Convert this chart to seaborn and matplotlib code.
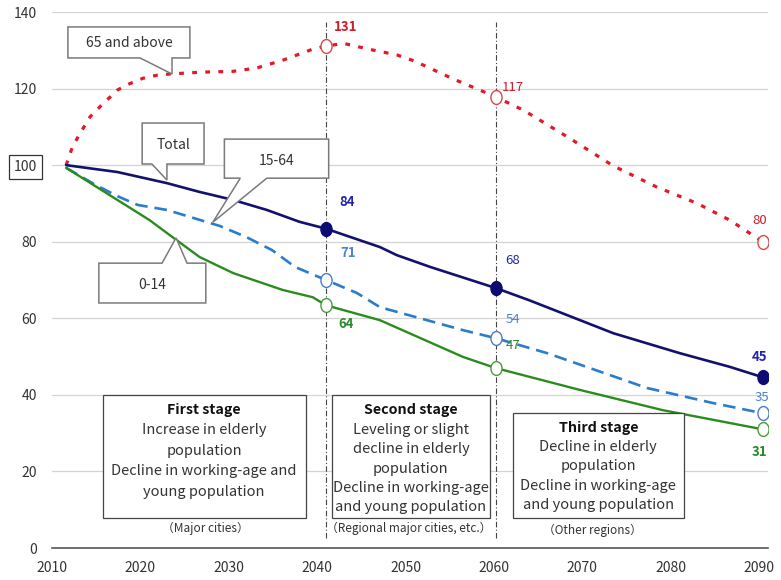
import matplotlib
matplotlib.use("Agg")
import matplotlib.pyplot as plt
import seaborn as sns
import pandas as pd
from matplotlib.markers import MarkerStyle
from matplotlib.transforms import Affine2D
from matplotlib.patches import Polygon, Rectangle

# ---------------- data ----------------
elderly_years = [2011.6, 2012.3, 2013.2, 2014.3, 2015.4, 2017.4, 2018.5, 2020.3, 2021.9, 2023.3,
                 2027.0, 2030.5, 2033.2, 2036.1, 2039.5, 2041.0, 2043.0, 2046.0, 2049.0, 2051.0,
                 2055.4, 2058.4, 2060.2, 2063.3, 2068.3, 2073.5, 2078.4, 2083.0, 2086.7, 2090.4]
elderly_vals = [100, 104.7, 108.4, 112.6, 115.2, 119.6, 121.0, 122.7, 123.5, 123.8,
                124.3, 124.5, 125.4, 127.4, 130.3, 131.1, 131.8, 130.2, 128.8, 127.2,
                122.5, 119.6, 117.8, 114.4, 107.4, 99.8, 94.3, 90.0, 85.6, 80.0]

total_years = [2011.6, 2017.4, 2023.0, 2026.7, 2030.5, 2034.3, 2038.0, 2041.0, 2047.1, 2049.0,
               2052.8, 2060.2, 2064.0, 2073.5, 2081.0, 2086.7, 2090.4]
total_vals = [100, 98.2, 95.3, 93.0, 90.9, 88.3, 85.2, 83.4, 78.6, 76.5,
              73.4, 67.9, 64.7, 56.1, 50.9, 47.3, 44.6]

working_years = [2011.6, 2014.8, 2017.4, 2019.7, 2023.0, 2026.0, 2029.0, 2032.0, 2034.9, 2037.5,
                 2041.0, 2044.5, 2047.1, 2056.5, 2060.2, 2066.0, 2077.3, 2084.7, 2090.4]
working_vals = [99.3, 95.0, 91.9, 89.6, 88.3, 86.2, 84.1, 81.2, 77.8, 73.4,
                70.0, 66.6, 62.9, 56.9, 54.8, 50.9, 41.8, 37.9, 35.2]

young_years = [2011.6, 2016.5, 2021.0, 2024.1, 2026.7, 2030.5, 2036.1, 2039.5, 2041.0, 2047.1,
               2056.5, 2060.2, 2069.7, 2079.1, 2090.4]
young_vals = [99.3, 92.2, 85.7, 80.4, 76.0, 71.8, 67.4, 65.5, 63.4, 59.5,
              49.9, 47.0, 41.3, 36.0, 31.0]

marker_years = [2041.0, 2060.2, 2090.4]
elderly_marks = [131.1, 117.8, 80.0]
total_marks = [83.4, 67.9, 44.6]
working_marks = [70.0, 54.8, 35.2]
young_marks = [63.4, 47.0, 31.0]

elderly_labels = ["131", "117", "80"]
total_labels = ["84", "68", "45"]
working_labels = ["71", "54", "35"]
young_labels = ["64", "47", "31"]

x_ticks = [2010, 2020, 2030, 2040, 2050, 2060, 2070, 2080, 2090]
y_ticks = [0, 20, 40, 60, 80, 100, 120, 140]

stage_titles = ["First stage", "Second stage", "Third stage"]
stage_bodies = [
    ["Increase in elderly", "population", "Decline in working-age and", "young population"],
    ["Leveling or slight", "decline in elderly", "population", "Decline in working-age", "and young population"],
    ["Decline in elderly", "population", "Decline in working-age", "and young population"],
]
stage_regions = ["（Major cities）", "（Regional major cities, etc.）", "（Other regions）"]

# ---------------- figure ----------------
sns.set_style("white")
plt.rcParams["font.family"] = ["Noto Sans CJK JP", "DejaVu Sans"]

fig = plt.figure(figsize=(7.81, 5.80), dpi=100)
ax = fig.add_axes([52 / 781, 1 - 548 / 580, (768 - 52) / 781, (548 - 12) / 580])
ax.set_xlim(2010, 2091.0)
ax.set_ylim(0, 140)

for y in y_ticks[1:]:
    ax.axhline(y, color="#d4d4d4", lw=0.9, zorder=0)

def df_of(years, vals):
    return pd.DataFrame({"year": years, "value": vals})

sns.lineplot(data=df_of(elderly_years, elderly_vals), x="year", y="value", ax=ax,
             color="#e5182a", lw=2.3, sort=False, estimator=None, zorder=3,
             linestyle=(0, (1.5, 2.6)))
sns.lineplot(data=df_of(total_years, total_vals), x="year", y="value", ax=ax,
             color="#12126e", lw=1.9, sort=False, estimator=None, zorder=3)
sns.lineplot(data=df_of(working_years, working_vals), x="year", y="value", ax=ax,
             color="#2a7ccc", lw=1.9, sort=False, estimator=None, zorder=3,
             linestyle=(0, (4.8, 2.6)))
sns.lineplot(data=df_of(young_years, young_vals), x="year", y="value", ax=ax,
             color="#2a8c1e", lw=1.7, sort=False, estimator=None, zorder=3)

# vertical stage separators
for yr in marker_years[:2]:
    ax.axvline(yr, ymin=2.6 / 140, ymax=137.3 / 140, color="#444444", lw=0.8,
               ls=(0, (5, 2, 1, 2)), zorder=2)

ell = MarkerStyle("o", transform=Affine2D().scale(0.8, 1.0))
ax.plot(marker_years, elderly_marks, ls="none", marker=ell, ms=10, mfc="white",
        mec="#d84848", mew=1.0, zorder=5)
ax.plot(marker_years, total_marks, ls="none", marker=ell, ms=10, mfc="#0c0c72",
        mec="#0c0c72", mew=1.0, zorder=5)
ax.plot(marker_years, working_marks, ls="none", marker=ell, ms=10, mfc="white",
        mec="#4a7cc8", mew=1.0, zorder=5)
ax.plot(marker_years, young_marks, ls="none", marker=ell, ms=10, mfc="white",
        mec="#4a9a3a", mew=1.0, zorder=5)

# value labels
label_sets = [
    (elderly_marks, elderly_labels, "#c8202c", [(20, 19), (17, 9), (-3, 21)], ["bold", "normal", "normal"]),
    (total_marks, total_labels, "#2424a8", [(21, 27), (17, 28), (-3, 20)], ["bold", "normal", "bold"]),
    (working_marks, working_labels, "#4a82d4", [(22, 27), (17, 19), (-1, 16)], ["bold", "normal", "normal"]),
    (young_marks, young_labels, "#2a8a2a", [(20, -19), (17, 23), (-3, -23)], ["bold", "normal", "bold"]),
]
for marks, labels, col, offs, weights in label_sets:
    for xv, yv, lab, off, w in zip(marker_years, marks, labels, offs, weights):
        ax.annotate(lab, (xv, yv), xytext=off, textcoords="offset pixels",
                    ha="center", va="center", fontsize=9.5, color=col,
                    fontweight=w, zorder=6)

# callout bubbles
def bubble(box, base, tip, side, text, text_xy):
    x0, x1, y0, y1 = box
    bx0, bx1 = base
    if side == "bottom":
        pts = [(x0, y1), (x1, y1), (x1, y0), (bx1, y0), tip, (bx0, y0), (x0, y0)]
    else:
        pts = [(x0, y0), (x1, y0), (x1, y1), (bx1, y1), tip, (bx0, y1), (x0, y1)]
    ax.add_patch(Polygon(pts, closed=True, fc="white", ec="#7a7a7a", lw=1.1, zorder=7))
    ax.text(text_xy[0], text_xy[1], text, ha="center", va="center", fontsize=10,
            color="#333333", zorder=8)

bubble((2011.8, 2025.6, 128.0, 136.1), (2019.96, 2023.58), (2023.58, 123.8), "bottom",
       "65 and above", (2018.7, 132.0))
bubble((2020.2, 2027.2, 100.3, 111.0), (2021.3, 2023.0), (2023.0, 96.1), "bottom",
       "Total", (2023.7, 105.2))
bubble((2029.5, 2041.3, 96.6, 106.8), (2031.3, 2034.3), (2028.2, 85.1), "bottom",
       "15-64", (2035.4, 101.0))
bubble((2015.3, 2027.4, 64.0, 74.4), (2022.45, 2025.28), (2024.03, 81.0), "top",
       "0-14", (2021.3, 68.7))

# stage boxes
boxes = [(2015.8, 2038.75, 7.8, 40.0), (2041.7, 2059.6, 7.8, 40.0), (2062.15, 2081.5, 7.8, 35.3)]
centers = [2027.2, 2050.6, 2071.8]
title_y = [36.0, 36.0, 31.3]
body_start = [30.8, 30.8, 26.4]
body_step = [5.4, 5.05, 5.05]
region_pos = [(2027.3, 5.2), (2050.3, 5.2), (2071.1, 4.7)]
for i in range(3):
    x0, x1, y0, y1 = boxes[i]
    ax.add_patch(Rectangle((x0, y0), x1 - x0, y1 - y0, fc="white", ec="#444444",
                           lw=0.9, zorder=4))
    ax.text(centers[i], title_y[i], stage_titles[i], ha="center", va="center",
            fontsize=10.3, fontweight="bold", color="#111111", zorder=5)
    for j, line in enumerate(stage_bodies[i]):
        ax.text(centers[i], body_start[i] - j * body_step[i], line, ha="center",
                va="center", fontsize=10.5, color="#333333", zorder=5)
    ax.text(region_pos[i][0], region_pos[i][1], stage_regions[i], ha="center",
            va="center", fontsize=8.5, color="#333333", zorder=5)

# axes styling
sns.despine(ax=ax, left=True, top=True, right=True)
ax.spines["bottom"].set_color("#555555")
ax.spines["bottom"].set_linewidth(1.2)
ax.set_xticks(x_ticks)
ax.set_xticks([t + 5 for t in x_ticks[:-1]], minor=True)
ax.set_xticklabels([str(t) for t in x_ticks])
ax.set_yticks(y_ticks)
ax.set_yticklabels([str(t) for t in y_ticks])
ax.tick_params(axis="x", which="both", direction="in", length=4, width=1.0,
               color="#555555", pad=9, labelsize=10, labelcolor="#333333")
ax.tick_params(axis="y", length=0, pad=11, labelsize=10, labelcolor="#333333")
ax.set_xlabel("")
ax.set_ylabel("")
for lab in ax.get_yticklabels():
    if lab.get_text() == "100":
        lab.set_bbox(dict(boxstyle="square,pad=0.35", fc="white", ec="#333333", lw=0.9))

fig.savefig("out.png", dpi=100)
